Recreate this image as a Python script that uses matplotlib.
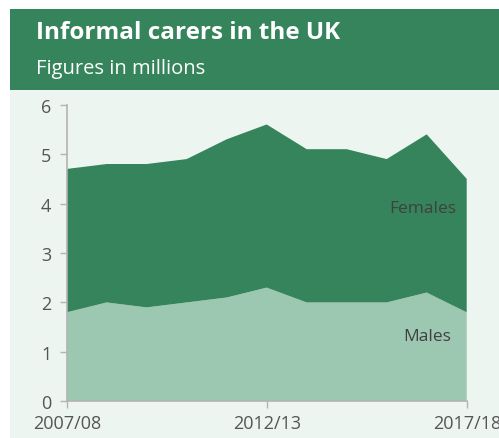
import matplotlib
matplotlib.use("Agg")
import matplotlib.pyplot as plt
from matplotlib.patches import Rectangle

years = ["2007/08", "2008/09", "2009/10", "2010/11", "2011/12", "2012/13",
         "2013/14", "2014/15", "2015/16", "2016/17", "2017/18"]
males = [1.8, 2.0, 1.9, 2.0, 2.1, 2.3, 2.0, 2.0, 2.0, 2.2, 1.8]
females = [2.9, 2.8, 2.9, 2.9, 3.2, 3.3, 3.1, 3.1, 2.9, 3.2, 2.7]
tick_labels = ["2007/08", "2012/13", "2017/18"]
tick_pos = [0, 5, 10]

plt.rcParams['font.family'] = ['Open Sans', 'DejaVu Sans']

W, H = 499, 439
fig = plt.figure(figsize=(W / 100, H / 100), dpi=100)
fig.patch.set_facecolor("white")

dark = "#35845b"
light = "#9cc7b0"
bg = "#ecf5f0"
grey = "#555555"
spine = "#b3b3b3"

fig.add_artist(Rectangle((10 / W, 0), 1, 1 - 91 / H, transform=fig.transFigure,
                         facecolor=bg, edgecolor="none", zorder=0))
fig.add_artist(Rectangle((10 / W, 1 - 91 / H), 1, 81 / H, transform=fig.transFigure,
                         facecolor=dark, edgecolor="none", zorder=0))
fig.text(36 / W, 1 - 33 / H, "Informal carers in the UK", color="white",
         fontsize=17.5, fontweight="bold", va="center", ha="left")
fig.text(36 / W, 1 - 69 / H, "Figures in millions", color="white",
         fontsize=14.5, va="center", ha="left")

ax = fig.add_axes([66.7 / W, 1 - 402.3 / H, 400 / W, (402.3 - 105.7) / H])
ax.set_facecolor("none")
x = list(range(len(years)))
ax.stackplot(x, males, females, colors=[light, dark], linewidth=0)
ax.set_xlim(0, 10)
ax.set_ylim(0, 6)
ax.set_xticks(tick_pos)
ax.set_xticklabels(tick_labels)
ax.set_yticks(range(0, 7))
for s in ["top", "right"]:
    ax.spines[s].set_visible(False)
for s in ["left", "bottom"]:
    ax.spines[s].set_color(spine)
    ax.spines[s].set_linewidth(1.2)
ax.tick_params(axis="both", colors=spine, labelcolor=grey, labelsize=13,
               length=5, width=1)
ax.tick_params(axis="y", pad=6)
ax.tick_params(axis="x", pad=4)

ax.text(8.89, 3.91, "Females", color="#404040", fontsize=12.5, ha="center", va="center")
ax.text(9.02, 1.33, "Males", color="#404040", fontsize=12.5, ha="center", va="center")

fig.savefig("out.png", dpi=100, facecolor=fig.get_facecolor())
